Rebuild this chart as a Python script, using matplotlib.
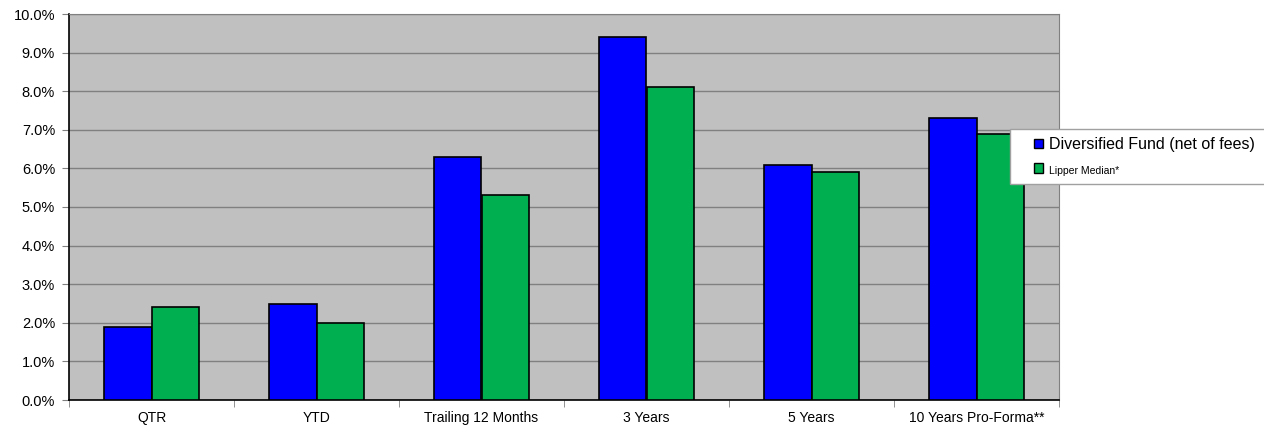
import numpy as np
import matplotlib.pyplot as plt
from matplotlib.patches import Rectangle
from matplotlib.ticker import FuncFormatter, FixedLocator

plt.rcParams['font.family'] = ['Liberation Sans', 'DejaVu Sans']

categories = ['QTR', 'YTD', 'Trailing 12 Months', '3 Years', '5 Years', '10 Years Pro-Forma**']
fund = [1.9, 2.5, 6.3, 9.4, 6.1, 7.3]
lipper = [2.4, 2.0, 5.3, 8.1, 5.9, 6.9]
series_names = ['Diversified Fund (net of fees)', 'Lipper Median*']

fig = plt.figure(figsize=(12.64, 4.29), dpi=100)
ax = fig.add_axes([69 / 1264, 1 - 400 / 429, 990 / 1264, 386 / 429])
ax.set_facecolor('#C0C0C0')

x = np.arange(len(categories))
w = 0.285
b1 = ax.bar(x - w / 2, fund, w, color='#0000FF', edgecolor='black', linewidth=1.2, zorder=3)
b2 = ax.bar(x + w / 2, lipper, w, color='#00B050', edgecolor='black', linewidth=1.2, zorder=3)

ax.set_xlim(-0.5, len(categories) - 0.5)
ax.set_ylim(0, 10)
ax.set_yticks(np.arange(0, 10.5, 1))
ax.yaxis.set_major_formatter(FuncFormatter(lambda v, p: f'{v:.1f}%'))
ax.yaxis.grid(True, color='#808080', linewidth=1, zorder=0)
ax.set_axisbelow(True)

ax.set_xticks(x)
ax.set_xticklabels(categories, va='baseline')
ax.xaxis.set_minor_locator(FixedLocator(np.arange(-0.5, len(categories), 1)))
ax.tick_params(axis='x', which='major', length=0, pad=16, labelsize=10)
ax.tick_params(axis='x', which='minor', length=5, color='#808080', direction='out')
ax.tick_params(axis='y', length=5, color='#808080', labelsize=10.5, pad=5)

for s in ['top', 'right']:
    ax.spines[s].set_color('#808080')
ax.spines['left'].set_color('black')
ax.spines['bottom'].set_color('black')
ax.spines['left'].set_linewidth(1.2)
ax.spines['bottom'].set_linewidth(1.2)

# legend box, runs off the right edge like the original
fig.patches.append(Rectangle((1010 / 1264, 1 - 184 / 429), 0.3, 55 / 429,
                             transform=fig.transFigure, facecolor='white',
                             edgecolor='#A0A0A0', linewidth=1, zorder=5))
leg = fig.legend([b1, b2], series_names, loc='upper left',
                 bbox_to_anchor=(1023 / 1264, 1 - 126 / 429), frameon=False,
                 handlelength=0.55, handleheight=0.55, handletextpad=0.35,
                 labelspacing=0.7, fontsize=11.5, borderpad=0.2)
leg.set_zorder(6)
leg.get_texts()[1].set_fontsize(7.5)
for h in leg.legend_handles:
    h.set_linewidth(1)

fig.savefig('out.png', dpi=100)
